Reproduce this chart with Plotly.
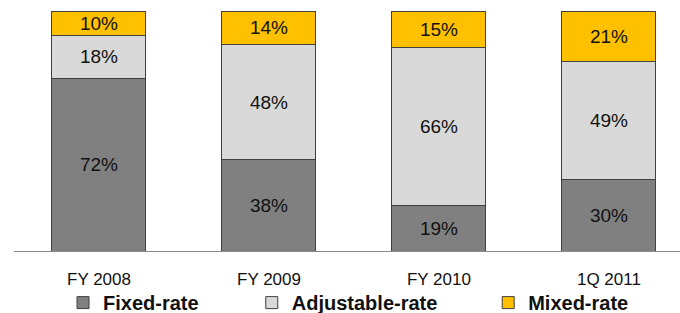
import plotly.graph_objects as go

categories = ["FY 2008", "FY 2009", "FY 2010", "1Q 2011"]
fixed_rate = [72, 38, 19, 30]
adjustable_rate = [18, 48, 66, 49]
mixed_rate = [10, 14, 15, 21]

series = [
    ("Fixed-rate", fixed_rate, "#808080", "legend"),
    ("Adjustable-rate", adjustable_rate, "#d9d9d9", "legend2"),
    ("Mixed-rate", mixed_rate, "#ffc000", "legend3"),
]

fig = go.Figure()
for name, vals, color, lg in series:
    fig.add_trace(go.Bar(
        x=categories, y=vals, name=name, legend=lg, showlegend=True,
        marker=dict(color=color, line=dict(color="#404040", width=1)),
        text=[f"{v}%" for v in vals],
        textposition="inside", insidetextanchor="middle", textangle=0,
        constraintext="none",
        textfont=dict(family="Liberation Sans, Arial", size=19, color="#111111"),
    ))

legend_font = dict(family="Liberation Sans, Arial", size=20, color="#111111", weight="bold")
def leg(x):
    return dict(orientation="h", x=x, xanchor="left", y=-0.215, yanchor="middle",
                font=legend_font, bgcolor="rgba(0,0,0,0)",
                tracegroupgap=0)

fig.update_layout(
    barmode="stack",
    bargap=0.447,
    showlegend=True,
    width=680, height=313,
    margin=dict(l=14, r=0, t=11, b=62, autoexpand=False),
    paper_bgcolor="white", plot_bgcolor="white",
    font=dict(family="Liberation Sans, Arial", color="#111111"),
    legend=leg(0.0736),
    legend2=leg(0.357),
    legend3=leg(0.712),
    xaxis=dict(
        range=[-0.5, 3.418], showline=True, linecolor="#8a8a8a", linewidth=1,
        ticks="", ticklabelstandoff=13,
        tickfont=dict(family="Liberation Sans, Arial", size=17, color="#111111"),
    ),
    yaxis=dict(range=[0, 100], visible=False),
)

fig.write_html(
    "out.html",
    config={"displayModeBar": False},
    post_script="document.body.style.margin='0';document.body.style.overflow='hidden';",
)
